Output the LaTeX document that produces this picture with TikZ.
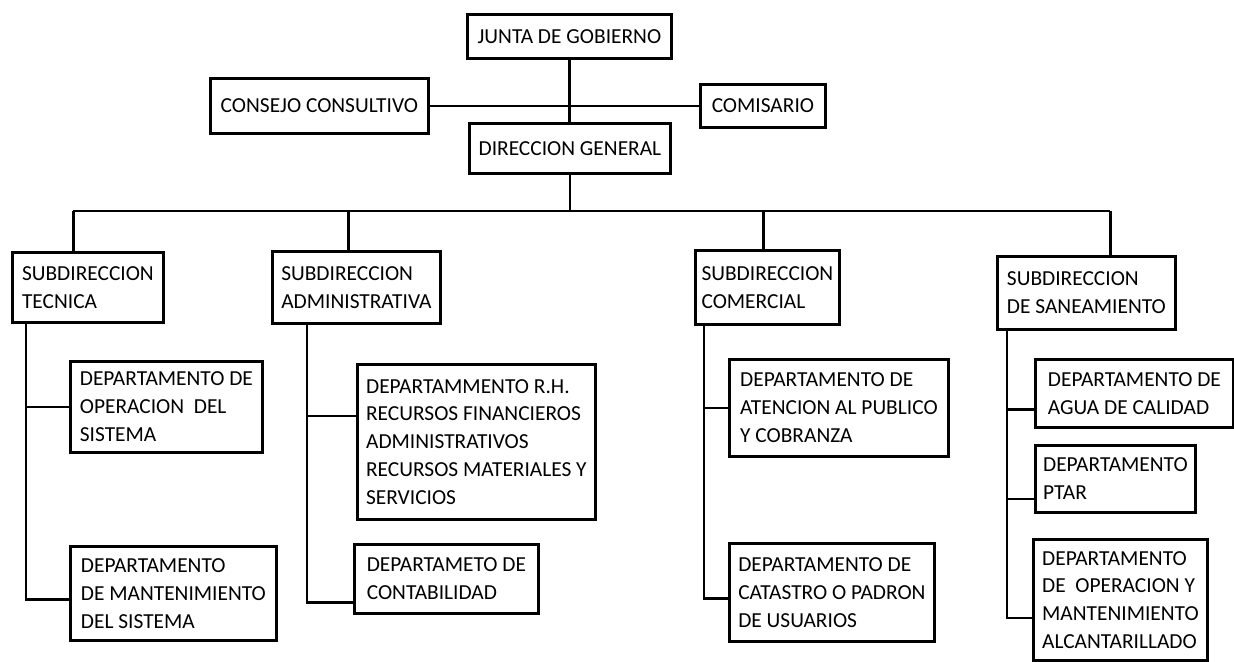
\documentclass[tikz,border=0pt]{standalone}
\usepackage{fontspec}
\setmainfont{Carlito}
\usepackage{tikz}
\usetikzlibrary{calc}

\begin{document}
\begin{tikzpicture}[x=0.5pt,y=-0.5pt]
    \tikzstyle{unit}=[draw,line width=1.4pt,anchor=north west,align=left,inner xsep=3pt,inner ysep=2pt,font=\fontsize{10.7}{13.9}\selectfont]
    \tikzstyle{link}=[line width=1.2pt,color=black]

    \useasboundingbox (0,0) rectangle (1234,662);

    % Top
    \node[style=unit,minimum width=102pt,minimum height=22pt] (junta) at (466,13) {JUNTA DE GOBIERNO};
    \node[style=unit,minimum width=109pt,minimum height=27.5pt] (consejo) at (209,77) {CONSEJO CONSULTIVO};
    \node[style=unit,minimum width=62.5pt,minimum height=21.5pt] (comisario) at (699,83) {COMISARIO};
    \node[style=unit,minimum width=100.5pt,minimum height=25pt] (direccion) at (468,122) {DIRECCION GENERAL};

    % Subdirecciones
    \node[style=unit,minimum width=75.5pt,minimum height=35pt] (subTec) at (11,251) {SUBDIRECCION\\TECNICA};
    \node[style=unit,minimum width=84pt,minimum height=36pt] (subAdm) at (271,250) {SUBDIRECCION\\ADMINISTRATIVA};
    \node[style=unit,minimum width=72pt,minimum height=37pt] (subCom) at (694,249) {SUBDIRECCION\\COMERCIAL};
    \node[style=unit,minimum width=89pt,minimum height=36.5pt] (subSan) at (996,255) {SUBDIRECCION\\DE SANEAMIENTO};

    % Departamentos
    \node[style=unit,minimum width=96pt,minimum height=45.5pt] (depOper) at (69,360) {DEPARTAMENTO DE\\OPERACION\ \ DEL\\SISTEMA};
    \node[style=unit,minimum width=103pt,minimum height=47pt] (depMant) at (69,545) {DEPARTAMENTO\\DE MANTENIMIENTO\\DEL SISTEMA};
    \node[style=unit,minimum width=119pt,minimum height=77.5pt] (depRH) at (356,363) {DEPARTAMMENTO R.H.\\RECURSOS FINANCIEROS\\ADMINISTRATIVOS\\RECURSOS MATERIALES Y\\SERVICIOS};
    \node[style=unit,minimum width=92pt,minimum height=34.5pt] (depCont) at (353,543) {DEPARTAMETO DE\\CONTABILIDAD};
    \node[style=unit,minimum width=109.5pt,minimum height=48.5pt] (depAten) at (728,358) {DEPARTAMENTO DE\\ATENCION AL PUBLICO\\Y COBRANZA};
    \node[style=unit,minimum width=102.5pt,minimum height=49pt] (depCat) at (728,542) {DEPARTAMENTO DE\\CATASTRO O PADRON\\DE USUARIOS};
    \node[style=unit,minimum width=99pt,minimum height=34pt] (depAgua) at (1034,358) {DEPARTAMENTO DE\\AGUA DE CALIDAD};
    \node[style=unit,minimum width=80pt,minimum height=33.5pt] (depPtar) at (1034,444) {DEPARTAMENTO\\PTAR};
    \node[style=unit,minimum width=87pt,minimum height=60.5pt] (depAlc) at (1032,538) {DEPARTAMENTO\\DE\ \ OPERACION Y\\MANTENIMIENTO\\ALCANTARILLADO};

    % Junta, consejo, comisario
    \draw[style=link] (junta.south) -- (junta.south |- direccion.north);
    \draw[style=link] (consejo.east) -- (consejo.east -| comisario.west);

    % Bus
    \coordinate (bus) at (568,211);
    \coordinate (drop_tec) at ([xshift=-7.25pt]subTec.north);
    \coordinate (drop_adm) at ([xshift=-4pt]subAdm.north);
    \coordinate (drop_com) at ([xshift=-2pt]subCom.north);
    \coordinate (drop_san) at ([xshift=12pt]subSan.north);
    \draw[style=link] (direccion.south) -- (direccion.south |- bus);
    \draw[style=link] (drop_tec |- bus) -- (drop_san |- bus);
    \foreach \d in {tec,adm,com,san}
        \draw[style=link] (drop_\d |- bus) -- (drop_\d);

    % Tecnica
    \coordinate (trunk_tec) at ([xshift=7.5pt]subTec.south west);
    \coordinate (in_mant) at ([yshift=-3pt]depMant.west);
    \draw[style=link] (trunk_tec) |- (in_mant);
    \draw[style=link] (trunk_tec |- depOper.west) -- (depOper.west);

    % Administrativa
    \coordinate (trunk_adm) at ([xshift=18pt]subAdm.south west);
    \coordinate (in_rh) at ([yshift=13pt]depRH.west);
    \coordinate (in_cont) at ([yshift=-11.75pt]depCont.west);
    \draw[style=link] (trunk_adm) |- (in_cont);
    \draw[style=link] (trunk_adm |- in_rh) -- (in_rh);

    % Comercial
    \coordinate (trunk_com) at ([xshift=5pt]subCom.south west);
    \coordinate (in_cat) at ([yshift=-3pt]depCat.west);
    \draw[style=link] (trunk_com) |- (in_cat);
    \draw[style=link] (trunk_com |- depAten.west) -- (depAten.west);

    % Saneamiento
    \coordinate (trunk_san) at ([xshift=5.5pt]subSan.south west);
    \coordinate (in_agua) at ([yshift=-8pt]depAgua.west);
    \coordinate (in_ptar) at ([yshift=-10pt]depPtar.west);
    \coordinate (in_alc) at ([yshift=-9pt]depAlc.west);
    \draw[style=link] (trunk_san) |- (in_alc);
    \draw[style=link] (trunk_san |- in_agua) -- (in_agua);
    \draw[style=link] (trunk_san |- in_ptar) -- (in_ptar);

\end{tikzpicture}
\end{document}
